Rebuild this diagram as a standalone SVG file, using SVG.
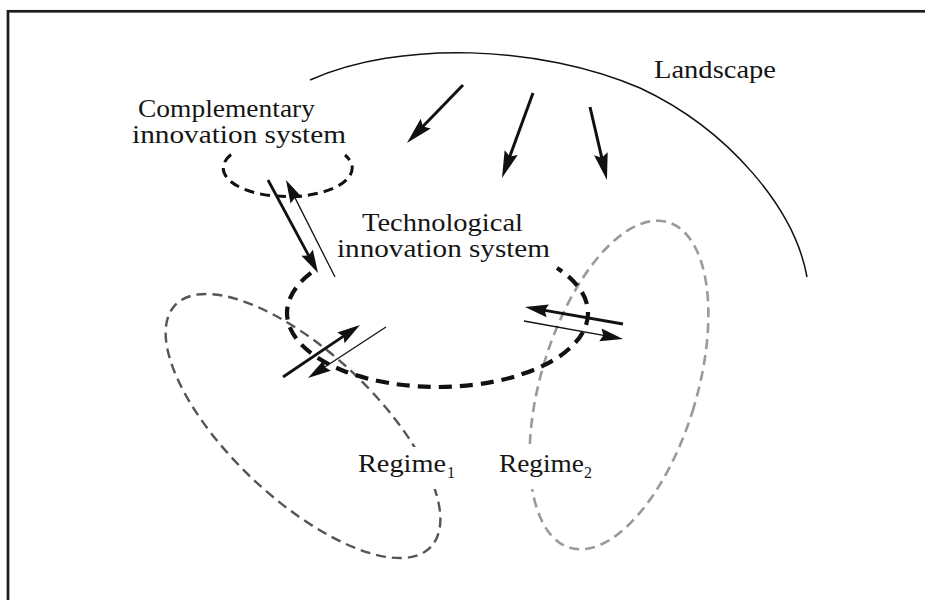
<svg xmlns="http://www.w3.org/2000/svg" width="925" height="600" viewBox="0 0 925 600">
<style>
text{font-family:"Liberation Serif","Times New Roman",serif;fill:#151515}
.lbl{font-size:25px}
.sub{font-size:16px}
.regime1{fill:none;stroke:#555;stroke-width:2.4;stroke-dasharray:10 6}
.regime2{fill:none;stroke:#9a9a9a;stroke-width:2.6;stroke-dasharray:10 6}
.tis{fill:none;stroke:#111;stroke-width:4.2;stroke-dasharray:13 8}
.cis{fill:none;stroke:#111;stroke-width:3;stroke-dasharray:10 6}
.big{stroke:#111;stroke-width:3;fill:none;marker-end:url(#headL)}
.thick{stroke:#111;stroke-width:2.8;fill:none;marker-end:url(#headM)}
.thin{stroke:#111;stroke-width:1.3;fill:none;marker-end:url(#headM)}
.mask{fill:#fff;stroke:none}
</style>
<defs>
<marker id="headL" viewBox="-30 -10 45 20" refX="0" refY="0" markerWidth="45" markerHeight="20" markerUnits="userSpaceOnUse" orient="auto">
<path d="M10,0 L-17,-7 L-13,0 L-17,7 Z" fill="#111"/>
</marker>
<marker id="headM" viewBox="-30 -10 45 20" refX="0" refY="0" markerWidth="45" markerHeight="20" markerUnits="userSpaceOnUse" orient="auto">
<path d="M10,0 L-13,-6.5 L-10,0 L-13,6.5 Z" fill="#111"/>
</marker>
</defs>
<rect x="8" y="11.3" width="1000" height="700" fill="none" stroke="#1e1e1e" stroke-width="2.7"/>
<g id="landscape">
<path d="M310,80 C400,40 540,45 640,88 C730,130 795,210 807,277" fill="none" stroke="#111" stroke-width="1.5"/>
<text class="lbl" x="654" y="78" textLength="122" lengthAdjust="spacingAndGlyphs">Landscape</text>
</g>
<g id="regime1">
<ellipse class="regime1" cx="303" cy="426" rx="176" ry="73" transform="rotate(43.4 303 426)"/>
<rect class="mask" x="352" y="447" width="108" height="42"/>
<text class="lbl" x="358" y="472" textLength="88" lengthAdjust="spacingAndGlyphs">Regime</text>
<text class="sub" x="447" y="478">1</text>
</g>
<g id="regime2">
<ellipse class="regime2" cx="619" cy="385" rx="78" ry="170" transform="rotate(16.8 619 385)"/>
<rect class="mask" x="494" y="448" width="108" height="41"/>
<text class="lbl" x="499" y="472" textLength="85" lengthAdjust="spacingAndGlyphs">Regime</text>
<text class="sub" x="584" y="478">2</text>
</g>
<g id="tis">
<path class="tis" d="M311,272.9 A150.5 74 0 1 0 557,268"/>
<text class="lbl" x="362" y="231" textLength="161" lengthAdjust="spacingAndGlyphs">Technological</text>
<text class="lbl" x="337" y="257" textLength="213" lengthAdjust="spacingAndGlyphs">innovation system</text>
</g>
<g id="cis">
<path class="cis" d="M231,154.5 A64.5 28.5 0 1 0 345,155"/>
<text class="lbl" x="138" y="117" textLength="177" lengthAdjust="spacingAndGlyphs">Complementary</text>
<text class="lbl" x="132" y="143" textLength="214" lengthAdjust="spacingAndGlyphs">innovation system</text>
</g>
<g id="connectors">
<line class="big" x1="463" y1="85" x2="413.9" y2="135.8"/>
<line class="big" x1="533" y1="93" x2="505.4" y2="168.6"/>
<line class="big" x1="590" y1="107" x2="604.7" y2="170.3"/>
<line class="thick" x1="268" y1="180" x2="313.3" y2="264.2"/>
<line class="thin" x1="335" y1="277" x2="290.5" y2="188.9"/>
<line class="thick" x1="283" y1="377" x2="351.7" y2="330.6"/>
<line class="thin" x1="386" y1="327" x2="316.4" y2="372.5"/>
<line class="thick" x1="623" y1="324" x2="534.9" y2="308.7"/>
<line class="thin" x1="524" y1="321" x2="613.2" y2="337.2"/>
</g>
</svg>
